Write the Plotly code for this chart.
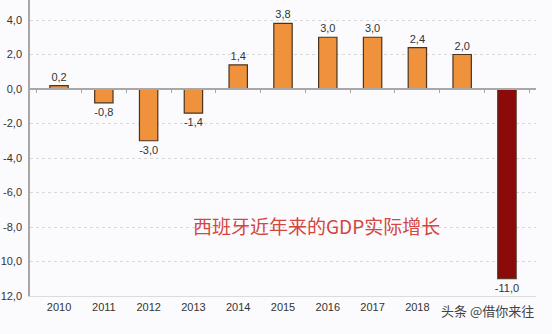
import plotly.graph_objects as go

years = ["2010", "2011", "2012", "2013", "2014", "2015", "2016", "2017", "2018", "2019", "2020"]
growth = [0.2, -0.8, -3.0, -1.4, 1.4, 3.8, 3.0, 3.0, 2.4, 2.0, -11.0]
labels = ["0,2", "-0,8", "-3,0", "-1,4", "1,4", "3,8", "3,0", "3,0", "2,4", "2,0", "-11,0"]
bar_colors = ["#F0913C"] * 10 + ["#8B0A0A"]
xtick_vals = ["2010", "2011", "2012", "2013", "2014", "2015", "2016", "2017", "2018"]
ytick_vals = [4, 2, 0, -2, -4, -6, -8, -10, -12]
ytick_text = ["4,0", "2,0", "0,0", "-2,0", "-4,0", "-6,0", "-8,0", "10,0", "12,0"]
title_text = "西班牙近年来的GDP实际增长"
watermark = "头条 @借你来往"

y_top, y_bot = 5.16, -12

fig = go.Figure()
fig.add_trace(go.Bar(
    x=years, y=growth,
    marker=dict(color=bar_colors, line=dict(color="#4a3420", width=1.2)),
    width=0.41,
    text=labels, textposition="outside", cliponaxis=False, constraintext="none",
    textfont=dict(family="Liberation Sans, Arial", size=11, color="#333333"),
))
fig.add_trace(go.Scatter(x=years, y=[None]*len(years), xaxis="x2", showlegend=False, hoverinfo="skip"))

fig.update_layout(
    width=552, height=334,
    margin=dict(l=30, r=16, t=0, b=38),
    paper_bgcolor="#FBFBFD", plot_bgcolor="#FBFBFD",
    showlegend=False,
    xaxis=dict(
        type="category", showgrid=False, showline=True, linecolor="#DCDCDC", linewidth=1,
        ticks="", tickvals=xtick_vals,
        tickfont=dict(family="Liberation Sans, Arial", size=11, color="#333333"),
        ticklabelstandoff=1, zeroline=False,
    ),
    xaxis2=dict(
        type="category", overlaying="x", anchor="free", position=(0 - y_bot) / (y_top - y_bot),
        showline=True, linecolor="#A8A8A8", linewidth=1.5,
        ticks="outside", ticklen=3, tickcolor="#A8A8A8", tickson="boundaries",
        showticklabels=False, showgrid=False, matches="x",
    ),
    yaxis=dict(
        range=[y_bot, y_top], tickvals=ytick_vals, ticktext=ytick_text,
        showgrid=True, gridcolor="#D8D8D8", griddash="dot", gridwidth=1,
        showline=True, linecolor="#A8A8A8", linewidth=1.5, zeroline=False,
        tickfont=dict(family="Liberation Sans, Arial", size=11, color="#333333"),
        ticks="", ticklabelstandoff=4,
    ),
    annotations=[
        dict(x=5.74, y=-7.9, xref="x", yref="y", text=title_text, showarrow=False,
             font=dict(family="Noto Sans CJK SC", size=19, color="#D2473F")),
        dict(x=1.0, y=-0.01, xref="paper", yref="paper", xanchor="right", yanchor="top",
             text=watermark, showarrow=False, bgcolor="rgba(251,251,253,0)",
             font=dict(family="Noto Sans CJK SC", size=13, color="#444444")),
    ],
)

fig.write_html("out.html")
